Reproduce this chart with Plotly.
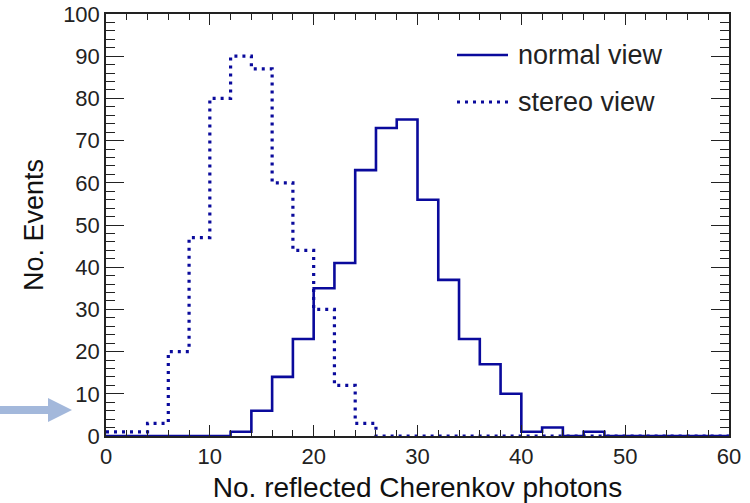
import plotly.graph_objects as go

# ---- data ----
bin_edges = list(range(0, 62, 2))  # 0..60, bin width 2
normal_counts = [0, 0, 0, 0, 0, 0, 1, 6, 14, 23, 35, 41, 63, 73, 75,
                 56, 37, 23, 17, 10, 1, 2, 0, 1, 0, 0, 0, 0, 0, 0]
stereo_counts = [1, 1, 3, 20, 47, 80, 90, 87, 60, 44, 30, 12, 3, 0, 0,
                 0, 0, 0, 0, 0, 0, 0, 0, 0, 0, 0, 0, 0, 0, 0]
series_names = ["normal view", "stereo view"]
x_title = "No. reflected Cherenkov photons"
y_title = "No. Events"

LINE_COLOR = "#0a0a9c"
FONT = "Liberation Sans, Arial, sans-serif"

# layout geometry (pixels)
W, H = 750, 503
ML, MR, MT, MB = 106, 21, 14, 67
PW, PH = W - ML - MR, H - MT - MB


def px(xp):
    return (xp - ML) / PW


def py(yp):
    return (H - MB - yp) / PH


fig = go.Figure()
fig.add_trace(go.Scatter(
    x=bin_edges, y=normal_counts + [normal_counts[-1]],
    mode="lines", line=dict(shape="hv", color=LINE_COLOR, width=2.6),
    name=series_names[0], showlegend=False, cliponaxis=False))
fig.add_trace(go.Scatter(
    x=bin_edges, y=stereo_counts + [stereo_counts[-1]],
    mode="lines", line=dict(shape="hv", color=LINE_COLOR, width=3.2, dash="3px,5px"),
    name=series_names[1], showlegend=False, cliponaxis=False))

axis_common = dict(
    showgrid=False, zeroline=False, showline=True, linecolor="#222",
    linewidth=1.5, ticks="inside", mirror="allticks", tickcolor="#222",
    tickwidth=1.3, tickfont=dict(family=FONT, size=22, color="#222"),
    automargin=False,
)
fig.update_xaxes(
    range=[0, 60], tick0=0, dtick=10, ticklen=11,
    minor=dict(ticks="inside", dtick=2, ticklen=6, tickcolor="#222", tickwidth=1.2),
    title=dict(text=x_title, font=dict(family=FONT, size=28, color="#111"), standoff=12),
    **axis_common)
fig.update_yaxes(
    range=[0, 100], tick0=0, dtick=10, ticklen=18,
    minor=dict(ticks="inside", dtick=2, ticklen=9, tickcolor="#222", tickwidth=1.2),
    title=dict(text=y_title, font=dict(family=FONT, size=27, color="#111"), standoff=12),
    **axis_common)

# manual legend
shapes = []
annotations = []
leg_y = [55, 102]
dashes = ["solid", "3px,5px"]
widths = [2.6, 3.2]
for name, yy, d, w in zip(series_names, leg_y, dashes, widths):
    shapes.append(dict(type="line", xref="paper", yref="paper",
                       x0=px(457), x1=px(508), y0=py(yy), y1=py(yy),
                       line=dict(color=LINE_COLOR, width=w, dash=d)))
    annotations.append(dict(xref="paper", yref="paper", x=px(516), y=py(yy),
                            xanchor="left", yanchor="middle", showarrow=False,
                            text=name, font=dict(family=FONT, size=27, color="#222")))

# decorative arrow pointing at the plot (left margin)
arrow_color = "#a3b8db"
path = (f"M {px(0)},{py(406)} L {px(48)},{py(406)} L {px(48)},{py(398)} "
        f"L {px(72)},{py(410)} L {px(48)},{py(422)} L {px(48)},{py(414)} "
        f"L {px(0)},{py(414)} Z")
shapes.append(dict(type="path", xref="paper", yref="paper", path=path,
                   fillcolor=arrow_color, line=dict(width=0), layer="above"))

fig.update_layout(
    width=W, height=H,
    margin=dict(l=ML, r=MR, t=MT, b=MB, pad=0, autoexpand=False),
    paper_bgcolor="white", plot_bgcolor="white",
    shapes=shapes, annotations=annotations,
    font=dict(family=FONT),
)

fig.write_html("out.html")
